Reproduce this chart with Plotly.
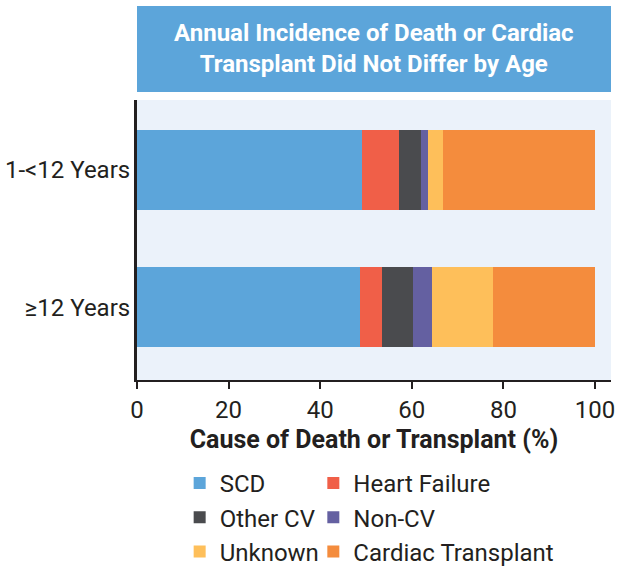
import plotly.graph_objects as go

categories = ["1-<12 Years", "≥12 Years"]
series_names = ["SCD", "Heart Failure", "Other CV", "Non-CV", "Unknown", "Cardiac Transplant"]
scd = [49.1, 48.7]
heart_failure = [8.1, 4.8]
other_cv = [4.8, 6.8]
non_cv = [1.5, 4.1]
unknown = [3.3, 13.3]
cardiac_transplant = [33.2, 22.3]
x_ticks = [0, 20, 40, 60, 80, 100]

values = [scd, heart_failure, other_cv, non_cv, unknown, cardiac_transplant]
colors = ["#5CA5DA", "#F05F48", "#4A4B4E", "#6460A1", "#FEBF5A", "#F48C3D"]
legend_ids = ["legend", "legend2", "legend", "legend2", "legend", "legend2"]

FONT = "Roboto"
DARK = "#231F20"

fig = go.Figure()
for name, vals, col, lg in zip(series_names, values, colors, legend_ids):
    fig.add_trace(go.Bar(
        y=categories, x=vals, name=name, orientation="h",
        marker=dict(color=col, line=dict(width=0)),
        legend=lg, legendgroup=name,
    ))

legend_common = dict(xanchor="left", yanchor="top", yref="container",
                     orientation="v", tracegroupgap=0, bgcolor="rgba(0,0,0,0)",
                     font=dict(size=24, family=FONT, color=DARK))

fig.update_layout(
    width=617, height=567,
    margin=dict(l=137, r=6, t=100, b=187, autoexpand=False),
    barmode="stack", bargap=0.416,
    plot_bgcolor="#EBF2FA", paper_bgcolor="white",
    font=dict(family=FONT, color=DARK, size=22),
    xaxis=dict(
        range=[0, 103.5], tickvals=x_ticks, showgrid=False, zeroline=False,
        showline=True, linecolor=DARK, linewidth=2, automargin=False,
        ticks="outside", ticklen=7, tickwidth=2, tickcolor=DARK,
        tickfont=dict(size=24, family=FONT, color=DARK),
        title=dict(text="<b>Cause of Death or Transplant (%)</b>",
                   font=dict(size=25, family=FONT, color=DARK), standoff=8),
    ),
    yaxis=dict(
        range=[1.53, -0.51], showgrid=False, zeroline=False, automargin=False,
        showline=True, linecolor=DARK, linewidth=3, ticks="",
        ticklabelstandoff=-1,
        tickfont=dict(size=24, family=FONT, color=DARK),
    ),
    legend=dict(x=0.09, y=1 - 461 / 567, **legend_common),
    legend2=dict(x=0.372, y=1 - 461 / 567, **legend_common),
    showlegend=True,
)

# title banner
fig.add_shape(type="rect", xref="paper", yref="paper",
              x0=0, x1=1, y0=(380 - 92) / 280, y1=(380 - 6) / 280,
              fillcolor="#5CA5DA", line=dict(width=0), layer="above")
fig.add_annotation(xref="paper", yref="paper", x=0.5, y=(380 - 49) / 280,
                   xanchor="center", yanchor="middle", showarrow=False,
                   text="<b>Annual Incidence of Death or Cardiac<br>Transplant Did Not Differ by Age</b>",
                   font=dict(size=24, family=FONT, color="white"))

fig.write_html("out.html", config={"displayModeBar": False},
               post_script="document.body.style.margin='0';document.body.style.padding='0';")
